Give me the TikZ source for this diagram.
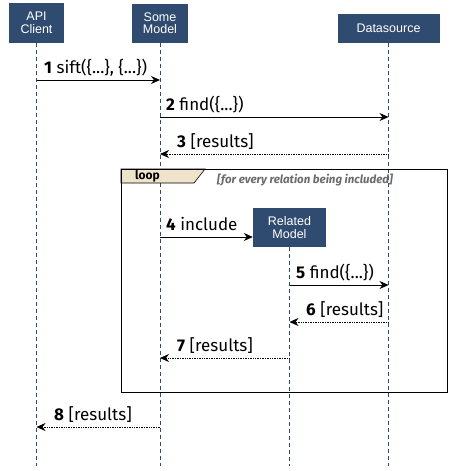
\documentclass[tikz,border=0pt]{standalone}
\usepackage{fontspec}
\setmainfont{Fira Sans}
\newfontfamily\boxfont{Liberation Sans}
\usepackage{tikz}
\usetikzlibrary{arrows.meta}

\definecolor{actorblue}{HTML}{2F4B6F}
\definecolor{loopbeige}{HTML}{EFE3CB}
\definecolor{guardgray}{HTML}{6B6B6B}

\begin{document}
\begin{tikzpicture}[x=1pt,y=-1pt,
    actor/.style={fill=actorblue, text=white, font=\boxfont\fontsize{12.5}{12.5}\selectfont,
        align=center, inner sep=0pt},
    lifeline/.style={actorblue, dashed, dash pattern=on 4pt off 3pt, line width=0.9pt},
    call/.style={-{Stealth[length=9pt,width=8pt,inset=3pt]}, line width=0.7pt},
    reply/.style={call, densely dotted, line width=0.6pt},
    msglabel/.style={font=\fontsize{17}{19}\selectfont, inner sep=0pt, anchor=base west}]
    \useasboundingbox (0,0) rectangle (449,471);

    % Actors
    \node[actor, minimum width=55pt, minimum height=40pt] (api) at (36.5,23) {API\\Client};
    \node[actor, minimum width=56pt, minimum height=39pt] (model) at (160,23) {Some\\Model};
    \node[actor, minimum width=102pt, minimum height=29pt] (ds) at (388.5,28.5) {Datasource};
    \node[actor, minimum width=73pt, minimum height=39pt] (related) at (289.5,227.5) {Related\\Model};

    % Lifelines
    \draw[lifeline] (api.south) -- (api |- 0,466);
    \draw[lifeline] (model.south) -- (model |- 0,466);
    \draw[lifeline] (ds.south) -- (ds |- 0,466);
    \draw[lifeline] (related.south) -- (related |- 0,466);

    % Loop frame
    \draw[fill=loopbeige, line width=0.6pt] (121,169) -- (205,169) -- (194,183) -- (121,183) -- cycle;
    \draw[line width=0.9pt] (121,169) rectangle (447,392);
    \node[font=\fontsize{12}{13}\selectfont\bfseries, anchor=base west, inner sep=0pt] (looptag) at (135,179) {loop};
    \node[font=\fontsize{11.5}{12}\selectfont\bfseries\itshape, text=guardgray, anchor=base west, inner sep=0pt]
        (guard) at (217,183) {[for every relation being included]};

    % Messages
    \draw[call] (api |- 0,80) -- (model |- 0,80);
    \node[msglabel] (m1) at (44,73) {\textbf{1} sift(\{...\}, \{...\})};

    \draw[call] (model |- 0,117) -- (ds |- 0,117);
    \node[msglabel] (m2) at (166,110) {\textbf{2} find(\{...\})};

    \draw[reply] (ds |- 0,154) -- (model |- 0,154);
    \node[msglabel] (m3) at (177,147) {\textbf{3} [results]};

    \draw[call] (model |- 0,237) -- (related.west |- 0,237);
    \node[msglabel] (m4) at (166,230) {\textbf{4} include};

    \draw[call] (related |- 0,285) -- (ds |- 0,285);
    \node[msglabel] (m5) at (296,278) {\textbf{5} find(\{...\})};

    \draw[reply] (ds |- 0,322) -- (related |- 0,322);
    \node[msglabel] (m6) at (306,315) {\textbf{6} [results]};

    \draw[reply] (related |- 0,358) -- (model |- 0,358);
    \node[msglabel] (m7) at (177,351) {\textbf{7} [results]};

    \draw[reply] (model |- 0,427) -- (api |- 0,427);
    \node[msglabel] (m8) at (54,420) {\textbf{8} [results]};

\end{tikzpicture}
\end{document}
